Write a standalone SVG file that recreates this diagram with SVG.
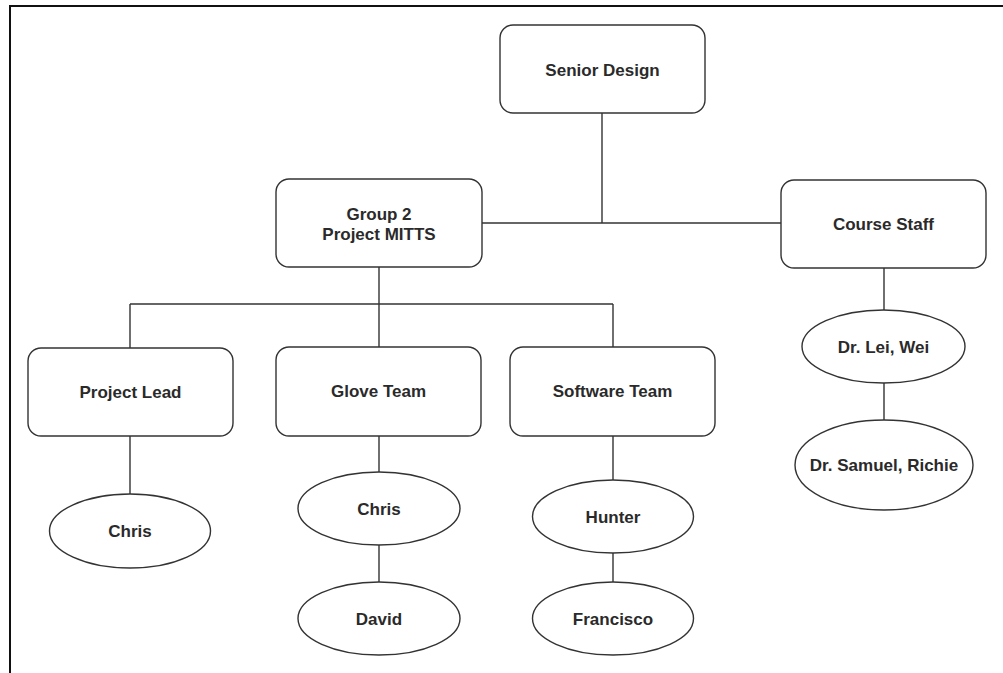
<svg xmlns="http://www.w3.org/2000/svg" width="1003" height="673" viewBox="0 0 1003 673">
<style>
.box{fill:#fff;stroke:#333;stroke-width:1.4}
.lbl{font-family:"Liberation Sans",Arial,sans-serif;font-weight:bold;font-size:17px;fill:#2a2a2a;text-anchor:middle}
.con{stroke:#333;stroke-width:1.4;fill:none}
.frame{stroke:#111;stroke-width:2;fill:none}
</style>
<rect width="1003" height="673" fill="#fff"/>
<g id="frame"><path class="frame" d="M10,673 V6 H1003"/></g>
<g id="connectors">
<path class="con" d="M602,113 V223"/>
<path class="con" d="M482,223 H781"/>
<path class="con" d="M379,267 V347"/>
<path class="con" d="M130,304 H613"/>
<path class="con" d="M130,304 V348"/>
<path class="con" d="M613,304 V347"/>
<path class="con" d="M130,436 V494"/>
<path class="con" d="M379,436 V472"/>
<path class="con" d="M379,545 V582"/>
<path class="con" d="M613,436 V480"/>
<path class="con" d="M613,553 V582"/>
<path class="con" d="M884,268 V310"/>
<path class="con" d="M884,383 V420"/>
</g>
<g id="senior-design"><rect class="box" x="500" y="25" width="205" height="88" rx="13"/><text class="lbl" x="602.5" y="76">Senior Design</text></g>
<g id="group2"><rect class="box" x="276" y="179" width="206" height="88" rx="13"/><text class="lbl" x="379" y="220">Group 2</text><text class="lbl" x="379" y="240">Project MITTS</text></g>
<g id="course-staff"><rect class="box" x="781" y="180" width="205" height="88" rx="13"/><text class="lbl" x="883.5" y="230">Course Staff</text></g>
<g id="project-lead"><rect class="box" x="28" y="348" width="205" height="88" rx="13"/><text class="lbl" x="130.5" y="398">Project Lead</text></g>
<g id="glove-team"><rect class="box" x="276" y="347" width="205" height="89" rx="13"/><text class="lbl" x="378.5" y="397">Glove Team</text></g>
<g id="software-team"><rect class="box" x="510" y="347" width="205" height="89" rx="13"/><text class="lbl" x="612.5" y="397">Software Team</text></g>
<g id="pl-chris"><ellipse class="box" cx="130" cy="531" rx="80.5" ry="37"/><text class="lbl" x="130" y="537">Chris</text></g>
<g id="gt-chris"><ellipse class="box" cx="379" cy="508.5" rx="81" ry="36.5"/><text class="lbl" x="379" y="514.5">Chris</text></g>
<g id="gt-david"><ellipse class="box" cx="379" cy="618.5" rx="81" ry="36.5"/><text class="lbl" x="379" y="624.5">David</text></g>
<g id="st-hunter"><ellipse class="box" cx="613" cy="516.5" rx="80.5" ry="36.5"/><text class="lbl" x="613" y="522.5">Hunter</text></g>
<g id="st-francisco"><ellipse class="box" cx="613" cy="618.5" rx="80.5" ry="36.5"/><text class="lbl" x="613" y="624.5">Francisco</text></g>
<g id="dr-lei"><ellipse class="box" cx="883.5" cy="346.5" rx="81.5" ry="36.5"/><text class="lbl" x="883.5" y="352.5">Dr. Lei, Wei</text></g>
<g id="dr-samuel"><ellipse class="box" cx="884" cy="465" rx="89" ry="45"/><text class="lbl" x="884" y="471">Dr. Samuel, Richie</text></g>
</svg>
